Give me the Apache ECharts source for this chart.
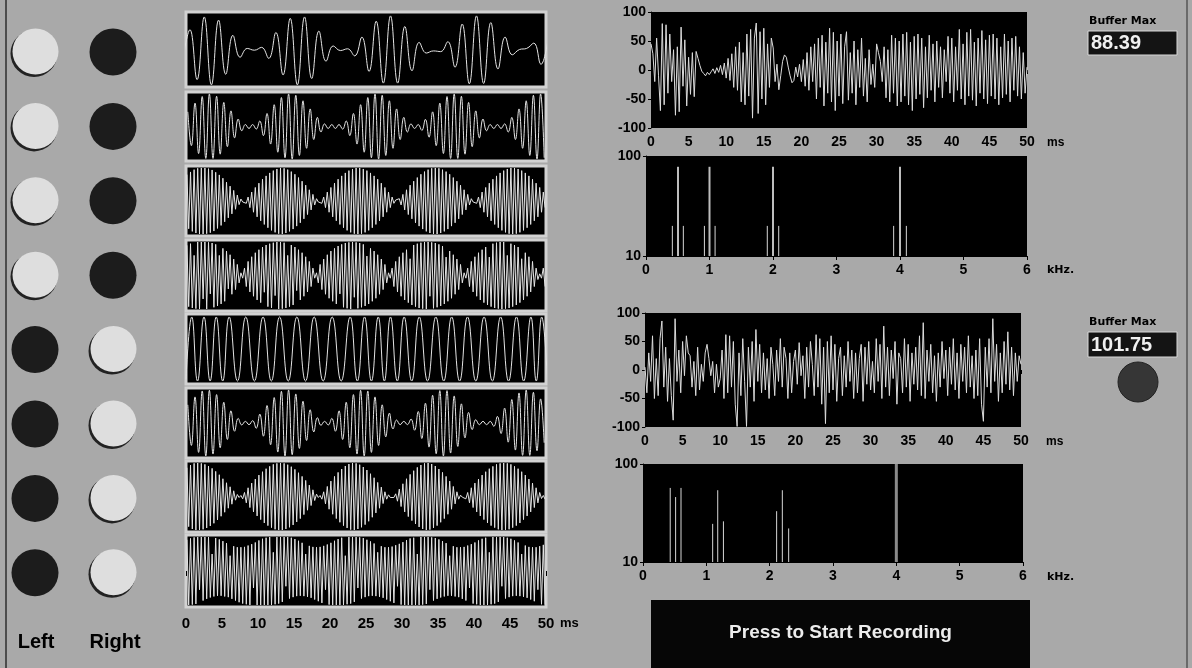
<!DOCTYPE html>
<html><head><meta charset="utf-8">
<script src="https://cdn.jsdelivr.net/npm/echarts/dist/echarts.min.js"></script>
<style>html,body{margin:0;padding:0;background:#a9a9a9}#c{width:1192px;height:668px}</style>
</head><body><div id="c"></div>
<script>
// ---------------- DATA ----------------
const timeAxisMaxMs = 50;
const freqAxisMaxKHz = 6;
const leftLampOn  = [1,1,1,1,0,0,0,0];
const rightLampOn = [0,0,0,0,1,1,1,1];
const bufferMaxTop = '88.39';
const bufferMaxBottom = '101.75';

// waveform 1 : extrema, start -0.45 ms, step 0.995 ms
const wave1 = [-30,56,-85,92,-100,83,-70,40,-22,3,-2,6,-25,48,-72,88,-100,92,-82,52,-33,10,-3,2,-18,35,-62,80,-95,95,-95,65,-60,20,-10,-4,-6,22,-50,72,-97,95,-96,76,-55,35,-15,0,3,18,-42,30];
// waveform 2 : extrema, start 0.25 ms, step 0.5 ms
const wave2 = [45,-59,72,-83,92,-98,100,-98,93,-85,74,-62,48,-35,23,-13,6,-6,6,-8,17,-28,40,-54,67,-79,89,-96,100,-100,96,-89,79,-67,54,-40,28,-17,8,-6,6,-6,6,-8,17,-28,40,-54,67,-79,89,-96,100,-100,96,-89,79,-67,54,-40,28,-17,8,-6,6,-12,22,-33,45,-59,72,-83,92,-98,100,-98,93,-85,74,-62,48,-35,23,-13,6,-6,6,-6,8,-17,28,-40,54,-67,79,-89,96,-100,100,-96];
// waveform 3 : extrema, start 0.125 ms, step 0.25 ms
const wave3 = [80,-84,88,-92,95,-97,99,-100,100,-100,100,-99,98,-96,94,-91,87,-83,79,-74,69,-63,57,-51,45,-39,32,-25,18,-11,6,-3,
3,-7,12,-20,27,-34,41,-48,54,-60,66,-71,76,-81,85,-89,92,-95,97,-99,100,-100,99,-97,95,-92,89,-85,81,-76,71,-66,60,-54,48,-41,34,-27,20,-12,7,-3,
3,-7,12,-20,27,-34,41,-48,54,-60,66,-71,76,-81,85,-89,92,-95,97,-99,100,-100,100,-99,97,-95,92,-89,85,-81,76,-71,66,-60,54,-48,41,-34,27,-20,12,-7,3,
-3,7,-12,20,-27,34,-41,48,-54,60,-66,71,-76,81,-85,89,-92,95,-97,99,-100,100,-100,99,-97,95,-92,89,-85,81,-76,71,-66,60,-54,48,-41,34,-27,20,-12,7,-3,
3,-7,12,-20,27,-34,41,-48,54,-60,66,-71,76,-81,85,-89,92,-95,97,-99,100,-100,100,-99,97,-95,92,-89,85,-81,76,-71,66,-60,54,-48,41,-34,27,-20];
// waveform 4 : extrema, start 0.125 ms, step 0.25 ms
const wave4 = [90,-93,95,-97,60,-99,100,-100,100,-70,100,-100,99,-55,97,-95,93,-91,60,-85,81,-77,73,-40,62,-56,49,-42,33,-22,8,
-8,22,-33,42,-49,56,-62,68,-73,77,-81,85,-50,91,-93,95,-97,98,-60,100,-100,100,-99,98,-97,60,-93,91,-88,85,-45,77,-73,68,-62,56,-49,42,-33,22,-8,
8,-22,33,-42,49,-56,62,-68,73,-77,81,-85,88,-55,93,-95,97,-98,99,-100,100,-65,99,-98,97,-95,93,-91,58,-85,81,-77,73,-68,62,-56,49,-42,33,-22,8,
-8,22,-33,42,-49,56,-62,68,-73,77,-81,50,-88,91,-93,95,-97,98,-99,100,-100,100,-62,99,-98,97,-95,93,-91,88,-85,55,-77,73,-68,62,-56,49,-42,33,-22,8,
-8,22,-33,42,-49,56,-62,68,-73,77,-81,85,-88,55,-93,95,-97,98,-99,100,-100,100,-99,60,-97,95,-93,91,-88,85,-81,50,-73,68,-62,56,-49,42,-33,22,-12,5,
-8,22,-33];
// waveform 5 : extrema times (ms) and values
const wave5Times = [0,0.8,1.6,2.5,3.35,4.2,5.1,6.0,7.15,8.3,9.5,10.7,11.85,13.0,14.2,15.4,16.6,17.8,19.05,20.3,21.55,22.8,23.8,24.8,25.75,26.7,27.55,28.4,29.35,30.3,31.35,32.4,33.55,34.7,35.8,36.9,38.0,39.1,40.25,41.4,42.55,43.7,44.8,45.9,46.9,47.9,48.65,49.4,50.2];
const wave5 = [-92,97,-97,97,-97,97,-97,97,-97,97,-97,97,-97,97,-97,97,-97,97,-97,97,-97,97,-97,97,-97,97,-97,97,-97,97,-97,97,-97,97,-97,97,-97,97,-97,97,-97,97,-97,97,-97,97,-97,97,-97];
// waveform 6 : extrema, start 0.25 ms, step 0.5 ms
const wave6 = [55,-68,79,-89,97,-100,99,-94,86,-75,63,-50,37,-25,14,-6,5,-5,7,-16,27,-40,53,-66,77,-88,96,-100,100,-96,88,-77,66,-53,40,-27,16,-7,5,-6,14,-25,37,-50,63,-75,86,-94,99,-100,97,-89,79,-68,55,-42,30,-18,9,-5,5,-5,12,-22,35,-47,60,-73,84,-93,98,-100,98,-91,82,-71,58,-45,32,-20,10,-5,5,-5,5,-10,20,-32,45,-58,71,-82,91,-98,100,-98,93,-84,73,-60];
// waveform 7 : extrema, start 0.125 ms, step 0.25 ms
const wave7 = [86,-90,94,-97,99,-100,100,-100,99,-98,96,-94,91,-88,84,-80,75,-70,65,-59,53,-47,41,-35,29,-23,17,-11,6,-3,
3,-7,12,-19,26,-33,40,-46,52,-58,64,-69,74,-79,83,-87,90,-93,96,-98,99,-100,100,-100,99,-97,95,-92,89,-85,81,-76,71,-66,60,-54,48,-41,34,-27,20,-12,7,-3,
3,-8,14,-22,30,-38,46,-53,60,-66,72,-77,82,-87,91,-94,97,-99,100,-100,99,-97,95,-92,88,-84,79,-74,68,-62,56,-49,42,-35,28,-21,14,-8,5,-3,2,
-3,8,-14,22,-30,38,-46,53,-60,66,-72,77,-82,87,-91,94,-97,99,-100,100,-99,97,-94,91,-87,82,-77,72,-66,60,-53,46,-38,30,-22,14,-8,4,-2,
3,-7,12,-19,26,-33,40,-46,52,-58,64,-69,74,-79,83,-87,90,-93,96,-98,99,-100,100,-100,99,-98,96,-93,90,-87,83,-79,74,-69,64,-58,52,-46,40,-33,26,-19,12,-6,3,-8];
// waveform 8 : extrema, start 0.125 ms, step 0.25 ms
const wave8 = [92,-100,96,-99,99,-97,100,-55,100,-87,100,-82,100,-78,50,-75,97,-73,93,-73,
88,-75,82,-77,45,-82,73,-87,70,-92,70,-96,71,-98,75,-100,79,-50,84,-100,
90,-100,95,-100,98,-100,100,-100,55,-98,100,-96,100,-91,100,-45,100,-81,98,-77,
94,-74,89,-73,83,-74,50,-76,74,-79,71,-84,70,-89,71,-94,74,-55,78,-99,
83,-100,89,-100,94,-100,98,-100,45,-98,100,-96,100,-91,100,-50,99,-81,97,-77,
92,-74,87,-73,81,-74,55,-76,73,-79,70,-84,70,-89,72,-94,76,-45,80,-99,
85,-100,91,-100,96,-100,98,-100,50,-100,100,-99,100,-97,100,-55,99,-87,97,-82,
93,-78,88,-75,82,-73,45,-73,73,-75,70,-77,70,-82,71,-87,75,-50,79,-96,
84,-98,90,-100,95,-100,98,-100,55,-98,100,-96,100,-91,100,-45,100,-81,98,-77,
95,-74,90,-73,84,-74,50,-76,75,-79,71,-84,70,-89,70,-55,73,-98,77,-99];

// recorded buffers (0.25 ms step from 0)
const bufferTop = [45,28,-20,55, -10,-70,80,-60, 78,-40,62,-20, 35,-78,40,-72, 74,-28,52,-62, 22,-42,30,-46,
32,20,8,-2, -6,-10,-4,-8, -3,2,-6,4, -4,8,-8,12, -14,20,-18,28, -30,40,-35,48, -55,30,-60,62, -45,70,-83,55,
81,-75,66,-50, 72,-60,45,-30, 55,38,-20,10, -34,-10,15,26, 22,5,-10,-22, -18,5,-12,10, -20,18,-28,30, -35,40,-20,45,
-50,55,-30,60, -62,48,-40,72, -55,65,-70,50, -45,62,-58,40, 66,-52,30,-40, 50,-60,35,-30, 55,-45,20,-55, 35,-25,10,-30,
45,30,15,-20, 40,-48,35,-55, 60,-40,55,-62, 50,-55,62,-45, 65,-60,48,-70, 58,-50,62,-42, 55,-65,40,-48, 60,-35,45,-55,
50,-30,40,-48, 35,-20,58,-40, 55,-55,40,-35, 70,-50,45,-60, 65,-45,70,-52, 48,-62,55,-40, 68,-50,52,-58, 60,-45,62,-50,
55,-60,40,-48, 62,-42,50,-55, 55,-35,58,-45, 40,-50,30,-40, 5];
const bufferBottom = [5,-40,30,-20, 60,-50,20,-45, 55,86,-30,40, -55,20,-45,-88, 90,-20,35,-40, 50,-10,60,30, 25,-30,15,-45,
40,-35,10,-20, 30,45,20,-10, 15,-40,10,-30, -15,35,-50,62, -40,60,-30,50, -60,-99,30,-45, 55,-20,-99,40, -30,50,-55,71,
-20,45,-40,30, -35,20,-50,40, 10,-45,35,-20, 55,-30,40,20, -50,30,-40,15, 35,-25,48,-10, 25,-50,40,-30, 50,10,-45,62,
-30,55,-60,40, -94,50,-40,60, -35,45,-55,20, 40,-45,25,-30, 50,-20,35,-50, 30,-40,20,45, -55,40,-25,50, -35,15,-40,55,
-20,45,-50,77, -30,40,-45,35, -15,50,-60,30, 20,-40,55,-30, 45,-55,30,-25, 40,-35,60,-45, 83,-50,35,-20, 45,-40,25,-55,
30,-30,50,-15, 35,-45,40,-25, 55,-35,30,-50, 45,-20,40,-40, 60,-30,25,-50, 35,-45,55,-60, -90,40,-30,55, -40,90,-20,45,
-55,30,-40,50, -25,67,-35,40, -45,30,-20,25, 10];

// spectra (kHz, magnitude on log scale)
const spectrumTopFreq = [0.415,0.504,0.588,0.92,1.0,1.088,1.91,2.0,2.09,3.9,4.0,4.1];
const spectrumTopMag  = [20,78,20,20,78,20,20,78,20,20,78,20];
const spectrumBotFreq = [0.43,0.515,0.6,1.1,1.18,1.27,2.11,2.2,2.3,4.0];
const spectrumBotMag  = [57,46,57,24.5,54,26,33,54,22,100];

// ---------------- CHART ----------------
const FONT = '"Liberation Sans", Arial, sans-serif';
const midTops = [12, 92, 166, 240, 314, 388, 461, 535];
const midHeights = [75, 69, 70, 71, 70, 70, 71, 72];
const seq = (vals, t0, dt) => vals.map((v, i) => [t0 + i * dt, v]);
const midData = [
  {d: seq(wave1, -0.45, 0.995), s: 0.45},
  {d: seq(wave2, 0.25, 0.5), s: 0.45},
  {d: seq(wave3, 0.125, 0.25), s: 0},
  {d: seq(wave4, 0.125, 0.25), s: 0},
  {d: wave5Times.map((t, i) => [t, wave5[i]]), s: 0.5},
  {d: seq(wave6, 0.25, 0.5), s: 0.45},
  {d: seq(wave7, 0.125, 0.25), s: 0},
  {d: seq(wave8, 0.125, 0.25), s: 0}
];
const lbl = {color: '#000', fontWeight: 'bold', fontSize: 14, fontFamily: FONT};
const grids = [], xAxes = [], yAxes = [], series = [];
midTops.forEach((top, i) => {
  grids.push({left: 186, width: 360, top: top, height: midHeights[i], show: true,
    backgroundColor: '#000', borderColor: '#d2d2d2', borderWidth: 3});
  const last = i === 7;
  xAxes.push({gridIndex: i, type: 'value', min: 0, max: timeAxisMaxMs, interval: 5,
    axisLine: {show: false}, splitLine: {show: false},
    axisTick: {show: last, length: 5, lineStyle: {color: '#000'}},
    axisLabel: Object.assign({show: last, margin: 9}, lbl, {fontSize: 15})});
  yAxes.push({gridIndex: i, type: 'value', min: -106, max: 106, show: false});
  series.push({type: 'line', xAxisIndex: i, yAxisIndex: i, data: midData[i].d,
    smooth: midData[i].s || false, showSymbol: false, animation: false, silent: true,
    lineStyle: {color: '#e4e4e4', width: 1}});
});
// right plots
const rp = [
  {left: 651, top: 12, width: 376, height: 116, kind: 'time', data: bufferTop},
  {left: 646, top: 156, width: 381, height: 100, kind: 'freq', f: spectrumTopFreq, m: spectrumTopMag},
  {left: 645, top: 313, width: 376, height: 114, kind: 'time', data: bufferBottom},
  {left: 643, top: 464, width: 380, height: 98, kind: 'freq', f: spectrumBotFreq, m: spectrumBotMag}
];
rp.forEach((p, j) => {
  const gi = 8 + j;
  grids.push({left: p.left, top: p.top, width: p.width, height: p.height, show: true,
    backgroundColor: '#000', borderWidth: 0});
  if (p.kind === 'time') {
    xAxes.push({gridIndex: gi, type: 'value', min: 0, max: timeAxisMaxMs, interval: 5,
      axisLine: {show: true, lineStyle: {color: '#000'}}, splitLine: {show: false},
      axisTick: {show: true, length: 4, lineStyle: {color: '#000'}},
      axisLabel: Object.assign({margin: 7}, lbl)});
    yAxes.push({gridIndex: gi, type: 'value', min: -100, max: 100, interval: 50,
      axisLine: {show: true, lineStyle: {color: '#000'}}, splitLine: {show: false},
      axisTick: {show: true, length: 3, lineStyle: {color: '#000'}},
      axisLabel: Object.assign({margin: 5}, lbl)});
    series.push({type: 'line', xAxisIndex: gi, yAxisIndex: gi,
      data: p.data.map((v, i) => [i * 0.25, v]), showSymbol: false, animation: false, silent: true,
      lineStyle: {color: '#dcdcdc', width: 1}});
  } else {
    xAxes.push({gridIndex: gi, type: 'value', min: 0, max: freqAxisMaxKHz, interval: 1,
      axisLine: {show: true, lineStyle: {color: '#000'}}, splitLine: {show: false},
      axisTick: {show: true, length: 4, lineStyle: {color: '#000'}},
      axisLabel: Object.assign({margin: 7}, lbl)});
    yAxes.push({gridIndex: gi, type: 'log', logBase: 10, min: 10, max: 100,
      axisLine: {show: true, lineStyle: {color: '#000'}}, splitLine: {show: false},
      axisTick: {show: true, length: 3, lineStyle: {color: '#000'}},
      axisLabel: Object.assign({margin: 5}, lbl)});
    series.push({type: 'custom', xAxisIndex: gi, yAxisIndex: gi, animation: false, silent: true,
      data: p.f.map((f, i) => [f, p.m[i]]),
      renderItem: (params, api) => {
        const x = api.value(0), v = api.value(1);
        const a = api.coord([x, 10]), b = api.coord([x, v]);
        let stroke = '#d6d6d6', w = 1;
        if (v >= 99) { stroke = '#8a8a8a'; w = 3; }
        else if (v >= 70) { stroke = '#bdbdbd'; w = 2; }
        return {type: 'line', shape: {x1: a[0], y1: a[1], x2: b[0], y2: b[1]},
          style: {stroke: stroke, lineWidth: w}};
      }});
  }
});

// decorations
const els = [];
els.push({type: 'rect', shape: {x: 5, y: 0, width: 2, height: 668}, style: {fill: '#4c4c4c'}});
els.push({type: 'rect', shape: {x: 1186, y: 0, width: 2, height: 668}, style: {fill: '#6a6a6a'}});
function lamp(cx, cy, on) {
  if (on) {
    els.push({type: 'circle', shape: {cx: cx - 1, cy: cy + 1.5, r: 23.5}, style: {fill: '#222'}});
    els.push({type: 'circle', shape: {cx: cx + 0.5, cy: cy - 0.5, r: 23}, style: {fill: '#dedede'}});
  } else {
    els.push({type: 'circle', shape: {cx: cx, cy: cy, r: 23.5}, style: {fill: '#1c1c1c'}});
  }
}
for (let i = 0; i < 8; i++) {
  const cy = 52 + 74.4 * i;
  lamp(35, cy, leftLampOn[i]);
  lamp(113, cy, rightLampOn[i]);
}
const txt = (t, x, y, size, align, color, family) => els.push({type: 'text',
  style: {text: t, x: x, y: y, fill: color || '#000', textAlign: align || 'left', textVerticalAlign: 'middle',
    font: 'bold ' + size + 'px ' + (family || FONT)}});
txt('Left', 36, 642, 20, 'center');
txt('Right', 115, 642, 20, 'center');
txt('ms', 560, 623, 13, 'left');
txt('ms', 1047, 143, 12, 'left');
txt('ms', 1046, 442, 12, 'left');
txt('kHz.', 1047, 270, 11, 'left', '#000', '"DejaVu Sans", sans-serif');
txt('kHz.', 1047, 577, 11, 'left', '#000', '"DejaVu Sans", sans-serif');
txt('Buffer Max', 1089, 21, 11, 'left', '#000', '"DejaVu Sans", sans-serif');
txt('Buffer Max', 1089, 322, 11, 'left', '#000', '"DejaVu Sans", sans-serif');
els.push({type: 'rect', shape: {x: 1088, y: 31, width: 89, height: 24}, style: {fill: '#141414', stroke: '#d8d8d8', lineWidth: 1}});
txt(bufferMaxTop, 1091, 43.5, 20, 'left', '#f0f0f0');
els.push({type: 'rect', shape: {x: 1088, y: 332, width: 89, height: 25}, style: {fill: '#141414', stroke: '#d8d8d8', lineWidth: 1}});
txt(bufferMaxBottom, 1091, 345, 20, 'left', '#f0f0f0');
els.push({type: 'circle', shape: {cx: 1138, cy: 382, r: 20}, style: {fill: '#363636', stroke: '#222', lineWidth: 1}});
els.push({type: 'rect', shape: {x: 651, y: 600, width: 379, height: 68}, style: {fill: '#060606'}});
txt('Press to Start Recording', 840.5, 633, 19, 'center', '#ececec');

const chart = echarts.init(document.getElementById('c'), null, {renderer: 'canvas'});
chart.setOption({
  backgroundColor: '#a9a9a9',
  animation: false,
  grid: grids, xAxis: xAxes, yAxis: yAxes, series: series,
  graphic: {elements: els}
});
</script></body></html>
